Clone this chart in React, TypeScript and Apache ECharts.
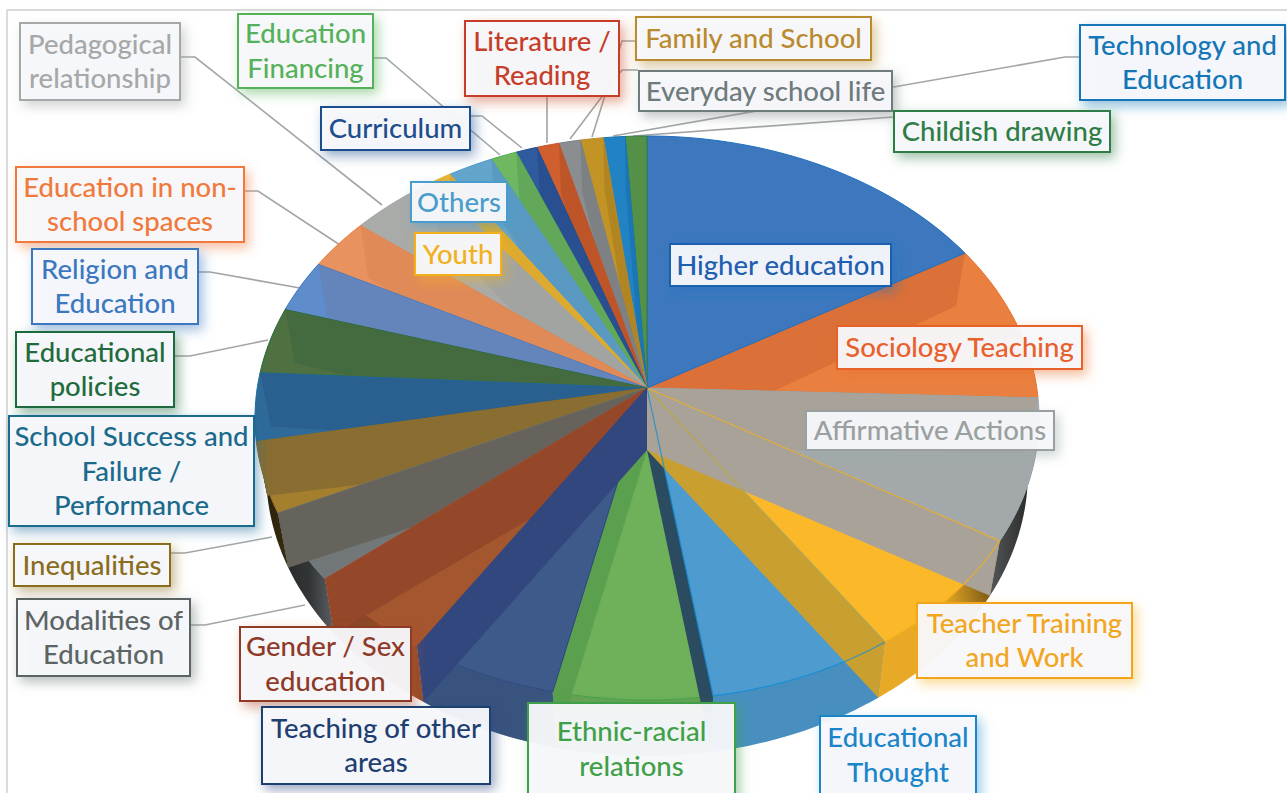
import React, { useEffect, useRef } from "react";
import * as echarts from "echarts";

// --- data: clockwise from 12 o'clock
const categories = [
  "Higher education", "Sociology Teaching", "Affirmative Actions", "Teacher Training and Work",
  "Educational Thought", "Ethnic-racial relations", "Teaching of other areas", "Gender / Sex education",
  "Modalities of Education", "Inequalities", "School Success and Failure / Performance", "Educational policies",
  "Religion and Education", "Education in non-school spaces", "Pedagogical relationship", "Youth", "Others",
  "Education Financing", "Curriculum", "Literature / Reading", "Everyday school life", "Family and School",
  "Technology and Education", "Childish drawing",
];
const values = [15.06, 8.8, 8.31, 7.44, 7.69, 6.56, 6.11, 5.36, 4.19, 4.14, 3.89, 3.72, 2.89, 2.78, 3.83, 0.83, 1.89, 1.08, 0.89, 0.92, 0.89, 0.94, 0.89, 0.89];

// --- styles (same order as categories)
const topColors = ["#3D78BE", "#EA8040", "#A3A9AB", "#FBB829", "#4E9BD0", "#6FB05A", "#3E5A8A", "#A4562F", "#72777A", "#A47F2E", "#2F6A9A", "#4F7040", "#5F8CCB", "#E8935F", "#A9ABA9", "#E8B535", "#64A5CC", "#70B860", "#2F5A9E", "#CF5F2E", "#8A8E90", "#C29325", "#2182C4", "#559048"];
const wallColors = ["#3A72B8", "#DB7038", "#A8A298", "#C9A030", "#2A4B60", "#5AA04E", "#33477F", "#954729", "#65635C", "#8A6D30", "#2A6090", "#446A3F", "#6484BC", "#E08A58", "#A2A4A2", "#DDAA30", "#5A9AC2", "#62A858", "#2A4F90", "#BE5528", "#7D8183", "#B08522", "#1C75B4", "#4D8542"];
const edgeColors = ["#1F6FC0", "#E8702C", "#9AA6A8", "#F2B01E", "#1B8FD0", "#3FA048", "#2A4580", "#B04A25", "#6B7578", "#8A6D1F", "#1A6A9C", "#1F6B3C", "#3B78C0", "#F07A3C", "#9FA3A3", "#F2B01E", "#4A9CCB", "#4CAF50", "#1F4E8C", "#C8502A", "#7A8286", "#B98A2E", "#1476B6", "#2E7D46"];
const startWall = ["Sociology Teaching", "Affirmative Actions"];
const noEndWall = ["Higher education", "Sociology Teaching"];

// --- geometry of the tilted pie
const APEX = { x: 647, y: 388 };
const TOP = { cx: 647, cy: 418, rx: 392, ry: 282 };
const APEX_LOW = { x: 647, y: 450 };
const LOW = { cx: 647, cy: 472, rx: 381, ry: 284 };

const total = values.reduce((a, b) => a + b, 0);
const cum: number[] = [0];
values.forEach((v, i) => cum.push(cum[i] + (v / total) * 360));

const rim = (e: typeof TOP, deg: number) => {
  const t = (deg * Math.PI) / 180;
  return [e.cx + e.rx * Math.sin(t), e.cy - e.ry * Math.cos(t)];
};
const arc = (e: typeof TOP, a: number, b: number) => {
  const n = Math.max(2, Math.ceil((b - a) / 1.5));
  const pts: number[][] = [];
  for (let k = 0; k <= n; k++) pts.push(rim(e, a + ((b - a) * k) / n));
  return pts;
};
const rgb = (hex: string) => {
  const n = parseInt(hex.slice(1), 16);
  return [(n >> 16) & 255, (n >> 8) & 255, n & 255];
};
const shade = (hex: string, f: number) => {
  const c = rgb(hex).map((v) => Math.round(v * f));
  return `rgb(${c[0]},${c[1]},${c[2]})`;
};
const alpha = (hex: string, a: number) => {
  const c = rgb(hex);
  return `rgba(${c[0]},${c[1]},${c[2]},${a})`;
};
const outerFill = (hex: string) =>
  new echarts.graphic.LinearGradient(255, 0, 1038, 0, [
    { offset: 0, color: shade(hex, 0.2) },
    { offset: 0.07, color: shade(hex, 0.45) },
    { offset: 0.1, color: shade(hex, 0.8) },
    { offset: 0.22, color: shade(hex, 0.92) },
    { offset: 0.88, color: shade(hex, 0.92) },
    { offset: 0.93, color: shade(hex, 0.55) },
    { offset: 1, color: shade(hex, 0.2) },
  ], true);

// ethnic-racial first, then counter-clockwise round the pie; sociology goes under affirmative
const drawOrder: number[] = [];
for (let k = 0; k < values.length; k++) drawOrder.push((5 - k + values.length) % values.length);
const affPos = drawOrder.indexOf(2);
const socPos = drawOrder.indexOf(1);
drawOrder[affPos] = 1;
drawOrder[socPos] = 2;

const radialWall = (deg: number, fill: string) => ({
  type: "polygon",
  shape: { points: [[APEX.x, APEX.y], rim(TOP, deg), rim(LOW, deg), [APEX_LOW.x, APEX_LOW.y]] },
  style: { fill, stroke: null },
});
const outline = (i: number) => ({
  type: "polygon",
  shape: { points: [[APEX.x, APEX.y], ...arc(TOP, cum[i], cum[i + 1])] },
  style: { fill: null, stroke: alpha(edgeColors[i], 0.8), lineWidth: 1.2 },
});
const OUTLINED_AFTER = "Affirmative Actions";
const outlinedSlices = ["Educational Thought", "Teacher Training and Work"];

// --- labels: text plus box [x1, y1, x2, y2]
const labels: { text: string; i: number; box: number[]; color: string; cy?: number }[] = [
  { text: "Pedagogical\nrelationship", i: 14, box: [19, 22, 181, 101], color: "#A6A8A8" },
  { text: "Education\nFinancing", i: 17, box: [237, 13, 374, 89], color: "#55B15A" },
  { text: "Literature /\nReading", i: 19, box: [464, 20, 620, 97], color: "#C63E2A" },
  { text: "Family and School", i: 21, box: [635, 16, 872, 61], color: "#B98A2E" },
  { text: "Everyday school life", i: 20, box: [638, 70, 893, 112], color: "#6E7B7B" },
  { text: "Technology and\nEducation", i: 22, box: [1079, 24, 1286, 101], color: "#1476B6" },
  { text: "Childish drawing", i: 23, box: [893, 110, 1111, 153], color: "#2E7D46" },
  { text: "Curriculum", i: 18, box: [320, 106, 471, 151], color: "#1F4E8C" },
  { text: "Others", i: 16, box: [410, 181, 508, 223], color: "#4A9CCB" },
  { text: "Youth", i: 15, box: [414, 232, 502, 276], color: "#F2B01E" },
  { text: "Higher education", i: 0, box: [669, 243, 892, 287], color: "#1F5FAF" },
  { text: "Sociology Teaching", i: 1, box: [836, 325, 1083, 370], color: "#E8602C" },
  { text: "Affirmative Actions", i: 2, box: [805, 410, 1055, 451], color: "#9AA0A0" },
  { text: "Education in non-\nschool spaces", i: 13, box: [15, 166, 245, 243], color: "#F07A3C" },
  { text: "Religion and\nEducation", i: 12, box: [31, 248, 199, 325], color: "#3B78C0" },
  { text: "Educational\npolicies", i: 11, box: [15, 331, 175, 408], color: "#1F6B3C" },
  { text: "School Success and\nFailure /\nPerformance", i: 10, box: [8, 415, 255, 527], color: "#1A6A8C" },
  { text: "Inequalities", i: 9, box: [13, 543, 171, 587], color: "#8A6D1F" },
  { text: "Modalities of\nEducation", i: 8, box: [16, 598, 191, 677], color: "#5C6464" },
  { text: "Gender / Sex\neducation", i: 7, box: [239, 626, 412, 702], color: "#8F3A28" },
  { text: "Teaching of other\nareas", i: 6, box: [261, 706, 491, 785], color: "#1F3F70" },
  { text: "Ethnic-racial\nrelations", i: 5, box: [527, 702, 736, 800], color: "#3FA048", cy: 749 },
  { text: "Educational\nThought", i: 4, box: [819, 715, 977, 806], color: "#1A85C8", cy: 755 },
  { text: "Teacher Training\nand Work", i: 3, box: [916, 602, 1133, 679], color: "#F2A51E" },
];

const leaders: number[][][] = [
  [[181, 57], [195, 57], [382, 205]],
  [[374, 58], [386, 58], [500, 155]],
  [[471, 116], [482, 116], [522, 148]],
  [[547, 97], [547, 143]],
  [[635, 41], [622, 41], [592, 137]],
  [[638, 70], [622, 70], [570, 139]],
  [[1079, 57], [1065, 57], [613, 136]],
  [[893, 117], [633, 136]],
  [[245, 191], [258, 191], [340, 245]],
  [[199, 272], [210, 272], [300, 288]],
  [[175, 356], [190, 356], [268, 340]],
  [[171, 553], [185, 553], [272, 537]],
  [[191, 625], [205, 625], [305, 605]],
];

export default function App() {
  const ref = useRef<HTMLDivElement>(null);
  useEffect(() => {
    document.body.style.margin = "0";
    document.body.style.background = "#fff";
    const chart = echarts.init(ref.current!, null, { renderer: "svg" });
    const graphic: any[] = [
      { type: "line", z: 1, shape: { x1: 7, y1: 10, x2: 1287, y2: 10 }, style: { stroke: "#CFCFCF", lineWidth: 1.5 } },
      { type: "line", z: 1, shape: { x1: 7, y1: 10, x2: 7, y2: 793 }, style: { stroke: "#CFCFCF", lineWidth: 1.5 } },
    ];
    leaders.forEach((points) =>
      graphic.push({ type: "polyline", z: 1, shape: { points }, style: { fill: null, stroke: "#A3A5A5", lineWidth: 1.6 } })
    );
    labels.forEach((l, n) => {
      const [x1, y1, x2, y2] = l.box;
      graphic.push({
        type: "rect", z: 100 + n * 2,
        shape: { x: x1 + 1, y: y1 + 1, width: x2 - x1 - 2, height: y2 - y1 - 2 },
        style: { fill: "rgba(248,249,252,0.94)", stroke: l.color, lineWidth: 2, shadowBlur: 12, shadowOffsetX: 4, shadowOffsetY: 5, shadowColor: alpha(edgeColors[l.i], 0.5) },
      });
      graphic.push({
        type: "text", z: 101 + n * 2,
        x: (x1 + x2) / 2,
        y: (l.cy ?? (y1 + y2) / 2) - 1,
        style: { text: l.text, fill: l.color, font: "500 27.5px Lato", lineHeight: 34.5, align: "center", verticalAlign: "middle" },
      });
    });

    chart.setOption({
      animation: false,
      backgroundColor: "#fff",
      graphic,
      series: [
        {
          type: "custom",
          coordinateSystem: "none",
          silent: true,
          z: 10,
          data: drawOrder.map((i) => [i, values[i]]),
          renderItem: (params: any) => {
            const i = drawOrder[params.dataIndex];
            const a = cum[i];
            const b = cum[i + 1];
            const children: any[] = [];
            const fa = Math.max(a, 90);
            const fb = Math.min(b, 270);
            if (fb > fa) {
              children.push({
                type: "polygon",
                shape: { points: [...arc(TOP, fa, fb), ...arc(LOW, fa, fb).reverse()] },
                style: { fill: outerFill(topColors[i]), stroke: null },
              });
            }
            children.push({
              type: "polygon",
              shape: { points: [[APEX.x, APEX.y], ...arc(TOP, a, b)] },
              style: { fill: topColors[i], stroke: edgeColors[i], lineWidth: 1 },
            });
            if (startWall.includes(categories[i])) children.push(radialWall(a, wallColors[i]));
            if (!noEndWall.includes(categories[i])) children.push(radialWall(b, wallColors[i]));
            if (categories[i] === OUTLINED_AFTER) {
              outlinedSlices.forEach((name) => children.push(outline(categories.indexOf(name))));
            }
            return { type: "group", children };
          },
        },
      ],
    });
    return () => chart.dispose();
  }, []);
  return <div ref={ref} style={{ position: "fixed", left: 0, top: 0, width: 1287, height: 793 }} />;
}
